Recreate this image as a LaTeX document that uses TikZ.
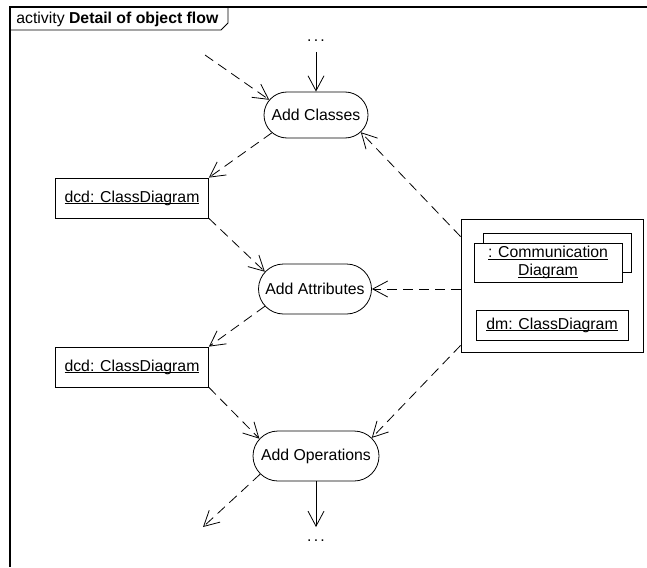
\documentclass[tikz,border=0pt]{standalone}
\usepackage{fontspec}
\setmainfont{Liberation Sans}
\usetikzlibrary{arrows.meta,shapes.misc,shadows}
% underlined object names with a fixed rule just below the baseline
\newsavebox\ulsave
\newcommand\ulbox[1]{\sbox\ulsave{#1}\rlap{\rule[-1.8pt]{\wd\ulsave}{0.8pt}}\usebox\ulsave}
\begin{document}
\begin{tikzpicture}[x=1pt,y=-1pt,
  font=\fontsize{15.8}{18}\selectfont,
  line width=0.8pt,
  action/.style={rounded rectangle, draw, minimum height=48pt, inner xsep=1pt, inner ysep=2pt},
  objbox/.style={rectangle, draw, fill=white, inner sep=0pt},
  flow/.style={-{Straight Barb[length=15pt,width=16pt]}},
  objflow/.style={flow, dash pattern=on 10pt off 6pt},
  frameline/.style={line width=1.4pt}]
\useasboundingbox (0,0) rectangle (647,567);

% diagram frame and name tab
\draw[frameline] (647,7) -- (10,7) -- (10,567);
\draw (10,30) -- (221,30) -- (228,23) -- (228,7);
\node[anchor=west, inner sep=0pt] (title) at (16,19) {activity \textbf{Detail of object flow}};

% actions
\node[action, minimum width=106pt, minimum height=46pt] (ac) at (316,115) {Add Classes};
\node[action, minimum width=115pt, minimum height=50pt] (aa) at (315,289) {Add Attributes};
\node[action, minimum width=128pt, minimum height=50pt] (ao) at (316,456) {Add Operations};

% object nodes
\node[objbox, minimum width=153pt, minimum height=40pt] (dcd1) at (132,198) {\ulbox{dcd: ClassDiagram}};
\node[objbox, minimum width=153pt, minimum height=40pt] (dcd2) at (132,367) {\ulbox{dcd: ClassDiagram}};

% parameter set on the right
\node[objbox, minimum width=182pt, minimum height=133pt] (rb) at (552,285.5) {};
\node[objbox, align=center, minimum width=148pt, minimum height=39pt,
      copy shadow={shadow xshift=9pt, shadow yshift=10pt, draw=black, fill=white}] (cd) at (548,262.5)
      {\ulbox{: Communication}\\[0pt]\ulbox{Diagram}};
\node[objbox, minimum width=152pt, minimum height=30pt] (dm) at (552,325) {\ulbox{dm: ClassDiagram}};

% continuation marks
\node[anchor=base, inner sep=0pt] (topdots) at (316,42) {.\kern2.2pt.\kern2.2pt.};
\node[anchor=base, inner sep=0pt] (botdots) at (316,541) {.\kern2.2pt.\kern2.2pt.};
\coordinate (topin) at (316,52);
\coordinate (botout) at (316,527);
\coordinate (leftin) at (205,55);
\coordinate (leftout) at (203,527);

% control flow
\draw[flow] (topin) -- (ac.north);
\draw[flow] (ao.south) -- (botout);

% object flow
\draw[objflow] (leftin) -- (ac.162);
\draw[objflow] (ac.-158) -- (dcd1.north east);
\draw[objflow] (dcd1.south east) -- (aa.161);
\draw[objflow] (aa.-161) -- (dcd2.north east);
\draw[objflow] (dcd2.south east) -- (ao.163);
\draw[objflow] (ao.-162) -- (leftout);
\draw[objflow] ([yshift=-18pt]rb.north west) -- (ac.-21);
\draw[objflow] ([yshift=-3.5pt]rb.west) -- (aa.east);
\draw[objflow] ([yshift=7pt]rb.south west) -- (ao.18);
\end{tikzpicture}
\end{document}
